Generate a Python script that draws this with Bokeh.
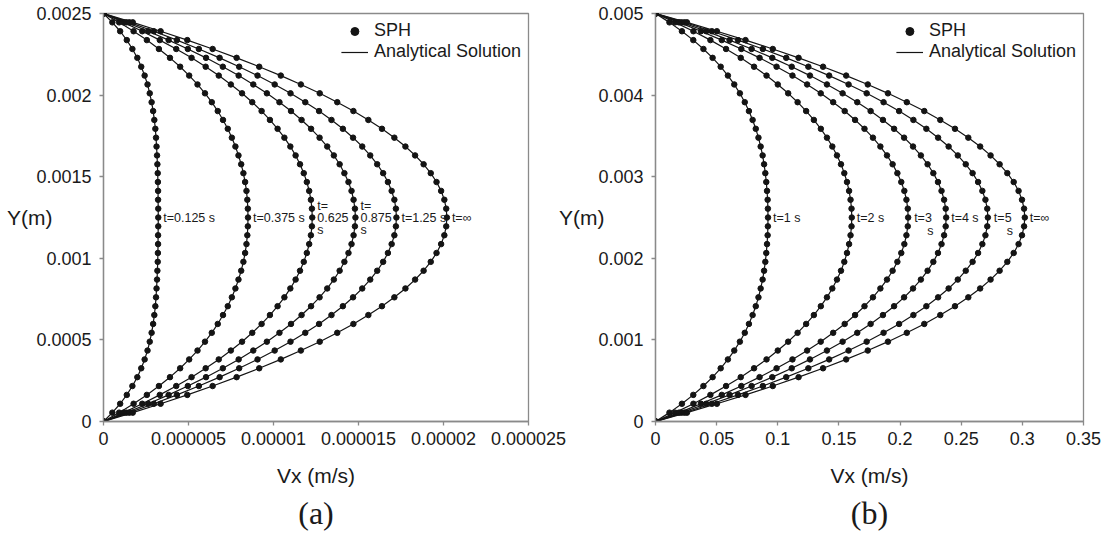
from bokeh.plotting import figure
from bokeh.models import Range1d, FixedTicker, Legend, LegendItem, Title, ColumnDataSource
from bokeh.layouts import row
from bokeh.embed import file_html
from bokeh.resources import INLINE
from bokeh.core.properties import value

# ---------------- data ----------------
# particle heights, panel (a) in mm, panel (b) in mm
Y_A_MM = [0.0000, 0.0543, 0.1087, 0.1630, 0.2174, 0.2717, 0.3261, 0.3804, 0.4348, 0.4891,
          0.5435, 0.5978, 0.6522, 0.7065, 0.7609, 0.8152, 0.8696, 0.9239, 0.9783, 1.0326,
          1.0870, 1.1413, 1.1957, 1.2500, 1.3043, 1.3587, 1.4130, 1.4674, 1.5217, 1.5761,
          1.6304, 1.6848, 1.7391, 1.7935, 1.8478, 1.9022, 1.9565, 2.0109, 2.0652, 2.1196,
          2.1739, 2.2283, 2.2826, 2.3370, 2.3913, 2.4457, 2.5000]
Y_B_MM = [0.0000, 0.1087, 0.2174, 0.3261, 0.4348, 0.5435, 0.6522, 0.7609, 0.8696, 0.9783,
          1.0870, 1.1957, 1.3043, 1.4130, 1.5217, 1.6304, 1.7391, 1.8478, 1.9565, 2.0652,
          2.1739, 2.2826, 2.3913, 2.5000, 2.6087, 2.7174, 2.8261, 2.9348, 3.0435, 3.1522,
          3.2609, 3.3696, 3.4783, 3.5870, 3.6957, 3.8043, 3.9130, 4.0217, 4.1304, 4.2391,
          4.3478, 4.4565, 4.5652, 4.6739, 4.7826, 4.8913, 5.0000]

# panel (a) velocities in micrometre/s
VX_A_T0125 = [0, 0.52, 0.98, 1.37, 1.70, 1.99, 2.22, 2.42, 2.59, 2.72, 2.83, 2.92, 2.99, 3.05, 3.09, 3.12,
              3.15, 3.17, 3.19, 3.20, 3.21, 3.21, 3.22, 3.22, 3.22, 3.21, 3.21, 3.20, 3.19, 3.17, 3.15,
              3.12, 3.09, 3.05, 2.99, 2.92, 2.83, 2.72, 2.59, 2.42, 2.22, 1.99, 1.70, 1.37, 0.98, 0.52, 0]
VX_A_T0375 = [0, 0.92, 1.77, 2.55, 3.26, 3.91, 4.51, 5.04, 5.53, 5.97, 6.37, 6.72, 7.03, 7.31, 7.55, 7.76,
              7.94, 8.10, 8.23, 8.33, 8.41, 8.46, 8.49, 8.50, 8.49, 8.46, 8.41, 8.33, 8.23, 8.10, 7.94,
              7.76, 7.55, 7.31, 7.03, 6.72, 6.37, 5.97, 5.53, 5.04, 4.51, 3.91, 3.26, 2.55, 1.77, 0.92, 0]
VX_A_T0625 = [0, 1.18, 2.28, 3.31, 4.28, 5.18, 6.01, 6.78, 7.49, 8.15, 8.75, 9.30, 9.79, 10.24, 10.64, 10.99,
              11.30, 11.56, 11.78, 11.96, 12.10, 12.20, 12.26, 12.28, 12.26, 12.20, 12.10, 11.96, 11.78, 11.56,
              11.30, 10.99, 10.64, 10.24, 9.79, 9.30, 8.75, 8.15, 7.49, 6.78, 6.01, 5.18, 4.28, 3.31, 2.28, 1.18, 0]
VX_A_T0875 = [0, 1.35, 2.63, 3.83, 4.96, 6.03, 7.02, 7.95, 8.81, 9.61, 10.35, 11.03, 11.65, 12.21, 12.71, 13.16,
              13.55, 13.89, 14.17, 14.41, 14.59, 14.71, 14.79, 14.82, 14.79, 14.71, 14.59, 14.41, 14.17, 13.89,
              13.55, 13.16, 12.71, 12.21, 11.65, 11.03, 10.35, 9.61, 8.81, 7.95, 7.02, 6.03, 4.96, 3.83, 2.63, 1.35, 0]
VX_A_T125 = [0, 1.52, 2.96, 4.32, 5.61, 6.83, 7.98, 9.06, 10.07, 11.00, 11.87, 12.68, 13.41, 14.08, 14.68, 15.22,
             15.69, 16.10, 16.45, 16.73, 16.95, 17.11, 17.20, 17.23, 17.20, 17.11, 16.95, 16.73, 16.45, 16.10,
             15.69, 15.22, 14.68, 14.08, 13.41, 12.68, 11.87, 11.00, 10.07, 9.06, 7.98, 6.83, 5.61, 4.32, 2.96, 1.52, 0]
VX_A_TINF = [0, 1.72, 3.36, 4.93, 6.42, 7.83, 9.16, 10.43, 11.61, 12.72, 13.75, 14.70, 15.58, 16.38, 17.11, 17.76,
             18.33, 18.83, 19.25, 19.59, 19.86, 20.05, 20.16, 20.20, 20.16, 20.05, 19.86, 19.59, 19.25, 18.83,
             18.33, 17.76, 17.11, 16.38, 15.58, 14.70, 13.75, 12.72, 11.61, 10.43, 9.16, 7.83, 6.42, 4.93, 3.36, 1.72, 0]

# panel (b) velocities in m/s
VX_B_T1 = [0, 0.0114, 0.0216, 0.0309, 0.0392, 0.0467, 0.0533, 0.0592, 0.0644, 0.0690, 0.0730, 0.0764, 0.0794,
           0.0820, 0.0842, 0.0860, 0.0876, 0.0888, 0.0898, 0.0906, 0.0912, 0.0917, 0.0919, 0.0920, 0.0919, 0.0917,
           0.0912, 0.0906, 0.0898, 0.0888, 0.0876, 0.0860, 0.0842, 0.0820, 0.0794, 0.0764, 0.0730, 0.0690, 0.0644,
           0.0592, 0.0533, 0.0467, 0.0392, 0.0309, 0.0216, 0.0114, 0]
VX_B_T2 = [0, 0.0160, 0.0310, 0.0449, 0.0577, 0.0697, 0.0806, 0.0908, 0.1000, 0.1085, 0.1162, 0.1232, 0.1295,
           0.1352, 0.1402, 0.1446, 0.1484, 0.1517, 0.1544, 0.1566, 0.1583, 0.1595, 0.1603, 0.1605, 0.1603, 0.1595,
           0.1583, 0.1566, 0.1544, 0.1517, 0.1484, 0.1446, 0.1402, 0.1352, 0.1295, 0.1232, 0.1162, 0.1085, 0.1000,
           0.0908, 0.0806, 0.0697, 0.0577, 0.0449, 0.0310, 0.0160, 0]
VX_B_T3 = [0, 0.0192, 0.0372, 0.0542, 0.0702, 0.0851, 0.0990, 0.1120, 0.1240, 0.1351, 0.1453, 0.1547, 0.1632,
           0.1709, 0.1778, 0.1839, 0.1893, 0.1939, 0.1978, 0.2010, 0.2035, 0.2052, 0.2063, 0.2066, 0.2063, 0.2052,
           0.2035, 0.2010, 0.1978, 0.1939, 0.1893, 0.1839, 0.1778, 0.1709, 0.1632, 0.1547, 0.1453, 0.1351, 0.1240,
           0.1120, 0.0990, 0.0851, 0.0702, 0.0542, 0.0372, 0.0192, 0]
VX_B_T4 = [0, 0.0213, 0.0415, 0.0606, 0.0786, 0.0955, 0.1114, 0.1263, 0.1402, 0.1530, 0.1650, 0.1759, 0.1860,
           0.1951, 0.2033, 0.2106, 0.2170, 0.2225, 0.2272, 0.2310, 0.2339, 0.2360, 0.2373, 0.2377, 0.2373, 0.2360,
           0.2339, 0.2310, 0.2272, 0.2225, 0.2170, 0.2106, 0.2033, 0.1951, 0.1860, 0.1759, 0.1650, 0.1530, 0.1402,
           0.1263, 0.1114, 0.0955, 0.0786, 0.0606, 0.0415, 0.0213, 0]
VX_B_T5 = [0, 0.0236, 0.0461, 0.0675, 0.0878, 0.1069, 0.1250, 0.1420, 0.1579, 0.1727, 0.1865, 0.1992, 0.2109,
           0.2215, 0.2311, 0.2397, 0.2472, 0.2537, 0.2593, 0.2638, 0.2673, 0.2698, 0.2713, 0.2718, 0.2713, 0.2698,
           0.2673, 0.2638, 0.2593, 0.2537, 0.2472, 0.2397, 0.2311, 0.2215, 0.2109, 0.1992, 0.1865, 0.1727, 0.1579,
           0.1420, 0.1250, 0.1069, 0.0878, 0.0675, 0.0461, 0.0236, 0]
VX_B_TINF = [0, 0.0257, 0.0502, 0.0736, 0.0959, 0.1170, 0.1370, 0.1559, 0.1736, 0.1901, 0.2055, 0.2198, 0.2329,
             0.2449, 0.2558, 0.2655, 0.2740, 0.2814, 0.2877, 0.2929, 0.2969, 0.2997, 0.3014, 0.3020, 0.3014, 0.2997,
             0.2969, 0.2929, 0.2877, 0.2814, 0.2740, 0.2655, 0.2558, 0.2449, 0.2329, 0.2198, 0.2055, 0.1901, 0.1736,
             0.1559, 0.1370, 0.1170, 0.0959, 0.0736, 0.0502, 0.0257, 0]

# curve labels (lines of each label)
LABELS_A = [["t=0.125 s"], ["t=0.375 s"], ["t=", "0.625", "s"], ["t=", "0.875", "s"], ["t=1.25 s"], ["t=\u221e"]]
LABELS_B = [["t=1 s"], ["t=2 s"], ["t=3", "s"], ["t=4 s"], ["t=5", "s"], ["t=\u221e"]]

# axis ticks
XTICKS_A = [0, 0.000005, 0.00001, 0.000015, 0.00002, 0.000025]
XTICK_LABELS_A = ["0", "0.000005", "0.00001", "0.000015", "0.00002", "0.000025"]
YTICKS_A = [0, 0.0005, 0.001, 0.0015, 0.002, 0.0025]
YTICK_LABELS_A = ["0", "0.0005", "0.001", "0.0015", "0.002", "0.0025"]
XTICKS_B = [0, 0.05, 0.1, 0.15, 0.2, 0.25, 0.3, 0.35]
XTICK_LABELS_B = ["0", "0.05", "0.1", "0.15", "0.2", "0.25", "0.3", "0.35"]
YTICKS_B = [0, 0.001, 0.002, 0.003, 0.004, 0.005]
YTICK_LABELS_B = ["0", "0.001", "0.002", "0.003", "0.004", "0.005"]

# ---------------- styling ----------------
FONT = "Liberation Sans"
SERIF = "Liberation Serif"
TXT = "#1a1a1a"
AXC = "#8a8a8a"
INK = "#141414"
FRAME_H = 408


def label_rows(curves, y_mid, specs):
    xs, ys, texts, dxs, dys = [], [], [], [], []
    for vx, lines in zip(curves, specs):
        xm = max(vx)
        if len(lines) == 1:
            offs = [(5, 0)]
        elif len(lines) == 3:
            offs = [(5, -12), (5, 0), (5, 12)]
        else:
            offs = [(6, 0), (19, 13)]
        for t, (dx, dy) in zip(lines, offs):
            xs.append(xm); ys.append(y_mid); texts.append(t); dxs.append(dx); dys.append(dy)
    return ColumnDataSource(dict(x=xs, y=ys, text=texts, dx=dxs, dy=dys))


def build(y_vals, curves, specs, x_end, xticks, xlabels, y_end, yticks, ylabels,
          caption, fw, left, right, ylab_standoff):
    p = figure(frame_width=fw, frame_height=FRAME_H, min_border_left=left, min_border_right=right,
               min_border_top=13, min_border_bottom=125,
               x_range=Range1d(0, x_end), y_range=Range1d(0, y_end),
               output_backend="svg", toolbar_location=None)
    p.grid.visible = False
    p.outline_line_color = AXC
    p.outline_line_width = 1.3
    p.background_fill_color = None
    p.border_fill_color = None

    for ax, ticks, labs in ((p.xaxis[0], xticks, xlabels), (p.yaxis[0], yticks, ylabels)):
        ax.ticker = FixedTicker(ticks=ticks)
        ax.major_label_overrides = dict(zip(ticks, labs))
        ax.axis_line_color = AXC
        ax.axis_line_width = 1.3
        ax.major_tick_line_color = AXC
        ax.major_tick_line_width = 1.3
        ax.major_tick_in = 0
        ax.major_tick_out = 4
        ax.minor_tick_line_color = None
        ax.major_label_text_font = FONT
        ax.major_label_text_font_size = "18px"
        ax.major_label_text_color = TXT
        ax.axis_label_text_font = FONT
        ax.axis_label_text_font_size = "21px"
        ax.axis_label_text_font_style = "normal"
        ax.axis_label_text_color = TXT
    p.xaxis[0].major_label_standoff = 6
    p.yaxis[0].major_label_standoff = 8
    p.xaxis[0].axis_label = "Vx (m/s)"
    p.xaxis[0].axis_label_standoff = 16
    p.yaxis[0].axis_label = "Y(m)"
    p.yaxis[0].axis_label_orientation = "horizontal"
    p.yaxis[0].axis_label_standoff = ylab_standoff

    first_line = first_dot = None
    for vx in curves:
        ln = p.line(vx, y_vals, line_color=INK, line_width=1.2)
        sc = p.scatter(vx, y_vals, size=5.5, fill_color=INK, line_color=INK)
        if first_line is None:
            first_line, first_dot = ln, sc

    src = label_rows(curves, y_vals[len(y_vals) // 2], specs)
    p.text(x="x", y="y", text="text", x_offset="dx", y_offset="dy", source=src,
           text_font=value(FONT), text_font_size="12.5px", text_color=TXT,
           text_baseline="middle", text_align="left")

    legend = Legend(items=[LegendItem(label="SPH", renderers=[first_dot]),
                           LegendItem(label="Analytical Solution", renderers=[first_line])],
                    location="top_right", border_line_color=None, background_fill_alpha=0,
                    label_text_font=FONT, label_text_font_size="18px", label_text_color=TXT,
                    glyph_width=27, glyph_height=20, label_height=20, label_standoff=6,
                    padding=0, spacing=0, margin=7)
    p.add_layout(legend)

    p.add_layout(Title(text=caption, align="center", text_font=SERIF, text_font_size="32px",
                       text_font_style="normal", text_color=TXT, standoff=6), "below")
    return p


ya = [v / 1000.0 for v in Y_A_MM]
yb = [v / 1000.0 for v in Y_B_MM]
curves_a = [[v * 1e-6 for v in c] for c in (VX_A_T0125, VX_A_T0375, VX_A_T0625, VX_A_T0875, VX_A_T125, VX_A_TINF)]
curves_b = [VX_B_T1, VX_B_T2, VX_B_T3, VX_B_T4, VX_B_T5, VX_B_TINF]

p1 = build(ya, curves_a, LABELS_A, 0.000025, XTICKS_A, XTICK_LABELS_A, 0.0025, YTICKS_A, YTICK_LABELS_A,
           "(a)", 425, 103, 45, -19)
p1.border_fill_color = "white"
p2 = build(yb, curves_b, LABELS_B, 0.35, XTICKS_B, XTICK_LABELS_B, 0.005, YTICKS_B, YTICK_LABELS_B,
           "(b)", 428, 98, 23, -9)
p2.margin = (0, 0, 0, -18)

layout = row(p1, p2)
layout.margin = 0
open("out.html", "w").write(file_html(layout, INLINE))
